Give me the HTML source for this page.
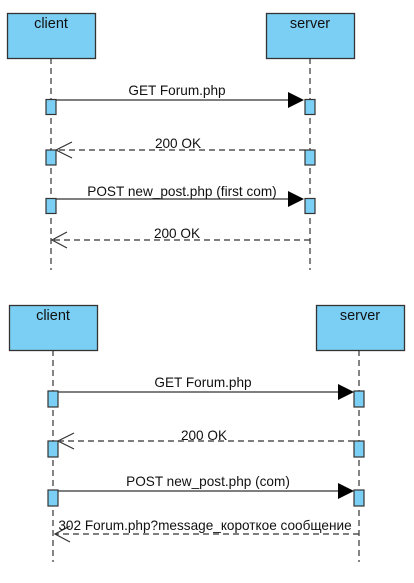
<!DOCTYPE html>
<html><head><meta charset="utf-8"><style>body{margin:0;background:#fff}</style></head><body>
<svg width="414" height="578" xmlns="http://www.w3.org/2000/svg" font-family="Liberation Sans, Arial, sans-serif" font-size="13.6">
<g stroke="#333" stroke-width="1.3" fill="#7ccff4">
<rect x="7.5" y="13.5" width="88" height="45"/>
<rect x="266.5" y="13.5" width="88" height="45"/>
<rect x="9.5" y="305.5" width="88" height="45"/>
<rect x="316.5" y="305.5" width="88" height="45"/>
</g>
<g fill="#111" text-anchor="middle" font-size="14.5">
<text x="51" y="28">client</text><text x="310" y="28">server</text>
<text x="53" y="320">client</text><text x="360" y="320">server</text>
</g>
<g stroke="#333" stroke-width="1.2" stroke-dasharray="6,4">
<line x1="51" y1="58" x2="51" y2="270"/><line x1="310" y1="58" x2="310" y2="270"/>
<line x1="53" y1="350" x2="53" y2="562"/><line x1="359" y1="350" x2="359" y2="562"/>
</g>
<g stroke="#333" stroke-width="1.2" fill="#7ccff4">
<rect x="46" y="99.5" width="10" height="15"/><rect x="305" y="99.5" width="10" height="15"/>
<rect x="46" y="150" width="10" height="15"/><rect x="305" y="150" width="10" height="15"/>
<rect x="46" y="198.5" width="10" height="15"/><rect x="305" y="198.5" width="10" height="15"/>
<rect x="48" y="391" width="10" height="16"/><rect x="354" y="391" width="10" height="16"/>
<rect x="48" y="441" width="10" height="16"/><rect x="354" y="441" width="10" height="16"/>
<rect x="48" y="490" width="10" height="16"/><rect x="354" y="490" width="10" height="16"/>
</g>
<g stroke="#333" stroke-width="1.2" fill="none">
<line x1="56" y1="100" x2="290" y2="100"/>
<line x1="56" y1="199" x2="290" y2="199"/>
<line x1="58" y1="392" x2="338" y2="392"/>
<line x1="58" y1="491" x2="338" y2="491"/>
<g stroke-dasharray="6,4">
<line x1="305" y1="150" x2="58" y2="150"/>
<line x1="310" y1="240" x2="53" y2="240"/>
<line x1="354" y1="441" x2="60" y2="441"/>
<line x1="359" y1="534" x2="56" y2="534"/>
</g>
<polyline points="72,142 56,150 72,158"/>
<polyline points="67,232 52,240 67,248"/>
<polyline points="74,433 58,441 74,449"/>
<polyline points="70,526 55,534 70,542"/>
</g>
<g fill="#000">
<polygon points="288,92 304,100 288,108"/>
<polygon points="288,191 304,199 288,207"/>
<polygon points="338,384 354,392 338,400"/>
<polygon points="338,483 354,491 338,499"/>
</g>
<g fill="#111" text-anchor="middle">
<text x="177" y="95">GET Forum.php</text>
<text x="178" y="148">200 OK</text>
<text x="182" y="196">POST new_post.php (first com)</text>
<text x="177" y="238">200 OK</text>
<text x="203" y="387">GET Forum.php</text>
<text x="204" y="440">200 OK</text>
<text x="208" y="486">POST new_post.php (com)</text>
<text x="205" y="530">302 Forum.php?message_короткое сообщение</text>
</g>
</svg>
</body></html>
